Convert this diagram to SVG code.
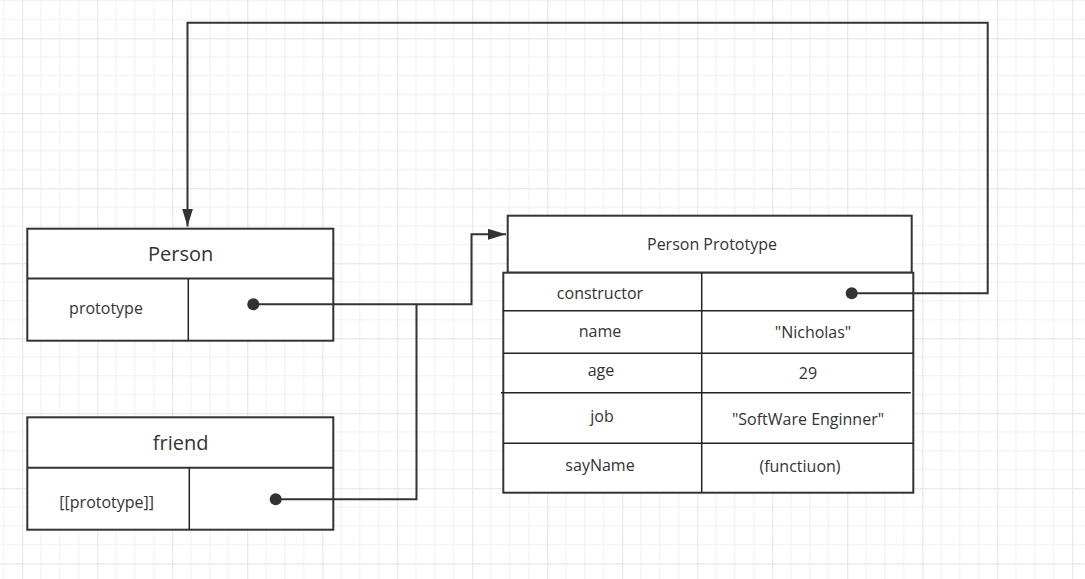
<svg xmlns="http://www.w3.org/2000/svg" width="1085" height="579" viewBox="0 0 1085 579">
<style>
.box{fill:#fff;stroke:#333;stroke-width:2}
.div{fill:none;stroke:#222;stroke-width:1.5}
.t{font-family:"Open Sans","Noto Sans","Liberation Sans",sans-serif;fill:#333;text-anchor:middle}
.big{font-size:20px}
.sm{font-size:16px}
.con{fill:none;stroke:#333;stroke-width:2}
.dot{fill:#333}
</style>
<defs>
<pattern id="grid" patternUnits="userSpaceOnUse" x="22.3" y="38.3" width="75" height="75">
<path d="M18.75,0V75M37.5,0V75M56.25,0V75M0,18.75H75M0,37.5H75M0,56.25H75" stroke="#f0f0f0" stroke-width="1" fill="none"/>
<path d="M0.5,0V75M0,0.5H75" stroke="#e3e3e3" stroke-width="1" fill="none"/>
</pattern>
<marker id="arr" viewBox="0 0 18 11" refX="18" refY="5.5" markerWidth="18" markerHeight="11" markerUnits="userSpaceOnUse" orient="auto">
<path d="M0,0L18,5.5L0,11z" fill="#333"/>
</marker>
</defs>
<rect width="1085" height="579" fill="#fff"/>
<rect width="1085" height="579" fill="url(#grid)"/>

<g id="person">
<rect class="box" x="27.3" y="228.7" width="306" height="112"/>
<line class="box" x1="27.3" y1="278.5" x2="333.3" y2="278.5"/>
<line class="div" x1="188.3" y1="278.5" x2="188.3" y2="340.7"/>
<text class="t big" x="180.7" y="261">Person</text>
<text class="t sm" x="106" y="313.5">prototype</text>
</g>

<g id="friend">
<rect class="box" x="27.3" y="417.3" width="306" height="112.4"/>
<line class="box" x1="27.3" y1="467.7" x2="333.3" y2="467.7"/>
<line class="div" x1="189.3" y1="467.7" x2="189.3" y2="529.7"/>
<text class="t big" x="180.7" y="450">friend</text>
<text class="t sm" x="106.7" y="508">[[prototype]]</text>
</g>

<g id="person-prototype">
<rect class="box" x="507.7" y="215.7" width="404" height="57"/>
<text class="t sm" x="712" y="250">Person Prototype</text>
<rect class="box" x="503.3" y="272.7" width="410" height="220"/>
<line class="div" x1="701.7" y1="272.7" x2="701.7" y2="492.7"/>
<line class="div" x1="503.3" y1="310.7" x2="913.3" y2="310.7"/>
<line class="div" x1="503.3" y1="353.3" x2="913.3" y2="353.3"/>
<line class="div" x1="501" y1="392.7" x2="910.7" y2="392.7"/>
<line class="div" x1="503.3" y1="443.3" x2="913.3" y2="443.3"/>
<text class="t sm" x="600" y="299">constructor</text>
<text class="t sm" x="600" y="336.5">name</text>
<text class="t sm" x="813" y="337.5">"Nicholas"</text>
<text class="t sm" x="601" y="375.5">age</text>
<text class="t sm" x="808" y="379">29</text>
<text class="t sm" x="602" y="421.5">job</text>
<text class="t sm" x="808" y="425">"SoftWare Enginner"</text>
<text class="t sm" x="600" y="470.5">sayName</text>
<text class="t sm" x="800" y="471.5">(functiuon)</text>
</g>

<g id="connectors">
<path class="con" d="M253.3,304.3H471.5V234.3H506" marker-end="url(#arr)"/>
<path class="con" d="M275.7,499.3H416.5V304.3"/>
<path class="con" d="M851.7,293.3H987.7V22.7H187.5V226.5" marker-end="url(#arr)"/>
<circle class="dot" cx="253.3" cy="304.3" r="6"/>
<circle class="dot" cx="275.7" cy="499.3" r="6"/>
<circle class="dot" cx="851.7" cy="293.3" r="6"/>
</g>
</svg>
